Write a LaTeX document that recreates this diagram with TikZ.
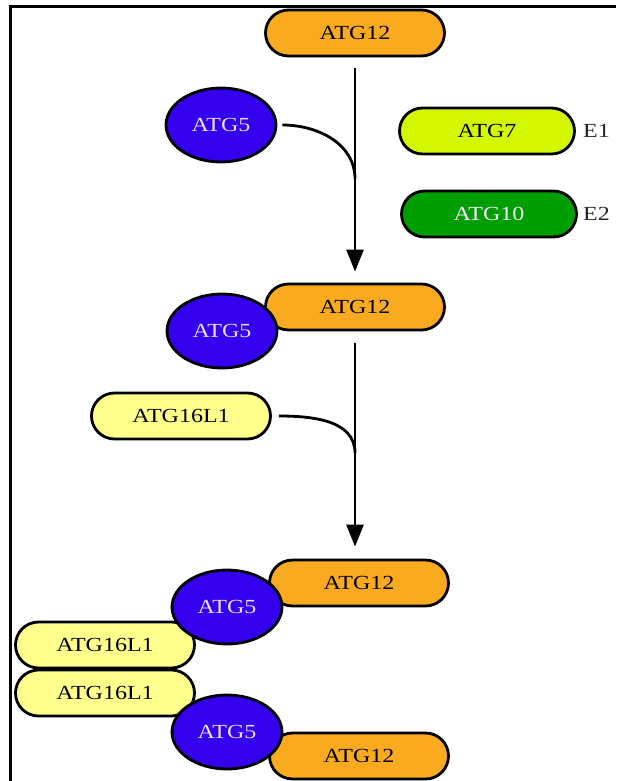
\documentclass[tikz,border=0pt]{standalone}
\usepackage{fontspec}
\setmainfont[FakeStretch=1.2]{Liberation Serif}
\usepackage{xcolor}
\usetikzlibrary{arrows.meta, calc, positioning, shapes.geometric}

\definecolor{atgOrange}{RGB}{250,170,30}
\definecolor{atgBlue}{RGB}{52,0,238}
\definecolor{atgYellow}{RGB}{255,255,140}
\definecolor{atgLime}{RGB}{212,246,0}
\definecolor{atgGreen}{RGB}{0,158,0}
\definecolor{atgPale}{RGB}{236,222,255}

\begin{document}
\begin{tikzpicture}[x=1pt, y=-1pt,
  prot/.style={draw=black, line width=2.8pt, inner sep=0pt, font=\fontsize{20}{22}\selectfont},
  pill/.style={prot, rectangle, minimum width=179pt, minimum height=46pt, rounded corners=23pt},
  twelve/.style={pill, fill=atgOrange},
  sixteen/.style={pill, fill=atgYellow},
  five/.style={prot, ellipse, minimum width=110pt, minimum height=74pt, fill=atgBlue, text=atgPale},
  enzyme/.style={pill, minimum width=175pt},
  tag/.style={inner sep=0pt, anchor=west, text=black!85, font=\fontsize{20}{22}\selectfont},
  flow/.style={line width=2.8pt, -{Triangle[length=22pt,width=17pt]}},
  merge/.style={line width=2.8pt}]
\useasboundingbox (0,0) rectangle (616,781);

% frame
\draw[line width=3pt] (10,781) -- (10,6.5) -- (616,6.5);

% free ATG12 and ATG5
\node[twelve] (twelveA) at (355,33) {ATG12};
\node[five] (fiveA) at (221,125) {ATG5};

% enzymes
\node[enzyme, fill=atgLime] (seven) at (487,131) {ATG7};
\node[enzyme, fill=atgGreen, text=atgPale!60!white] (ten) at (489,214) {ATG10};
\node[tag] (eone) at (583,131) {E1};
\node[tag] (etwo) at (583,214) {E2};

% ATG12--ATG5 conjugate
\node[twelve] (twelveB) at (355,307) {ATG12};
\node[five] (fiveB) at (222,331) {ATG5};

% free ATG16L1
\node[sixteen] (sixteenA) at (181,416) {ATG16L1};

% final complex
\node[twelve] (twelveC) at (359,583) {ATG12};
\node[twelve] (twelveD) at (359,756) {ATG12};
\node[sixteen] (sixteenB) at (105,645) {ATG16L1};
\node[sixteen] (sixteenC) at (105,693) {ATG16L1};
\node[five] (fiveC) at (227,607) {ATG5};
\node[five] (fiveD) at (227,732) {ATG5};

% arrows
\coordinate (joinA) at (355,179);
\coordinate (joinB) at (355,453);
\draw[flow, shorten <=11pt, shorten >=11pt] (twelveA.south) -- (twelveB.north);
\draw[flow, shorten <=12pt, shorten >=12pt] (twelveB.south) -- (twelveB.south |- twelveC.north);
\draw[merge] ([xshift=5pt]fiveA.east) to[out=0, in=90] (joinA);
\draw[merge] ([xshift=7pt]sixteenA.east) to[out=0, in=90] (joinB);
\end{tikzpicture}
\end{document}
